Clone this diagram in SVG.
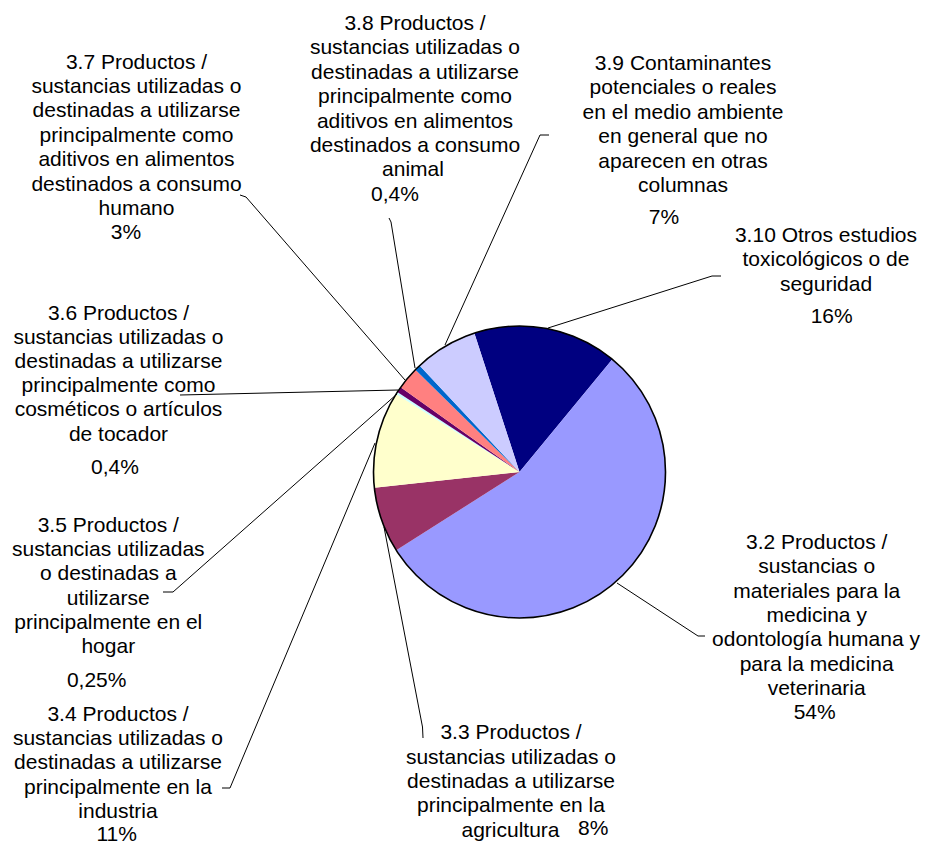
<svg xmlns="http://www.w3.org/2000/svg" width="925" height="847" viewBox="0 0 925 847">
<style>
text{font-family:"Liberation Sans",Arial,sans-serif;font-size:21px;fill:#000;text-anchor:middle}
.ld{fill:none;stroke:#000;stroke-width:1}
.sl{stroke:none}
</style>
<rect width="925" height="847" fill="#fff"/>
<g id="pie">
<path id="s310" class="sl" fill="#000080" d="M519.5 472 L474.38 333.15 A146 146 0 0 1 612.37 359.34 Z"/>
<path id="s32" class="sl" fill="#9999FF" d="M519.5 472 L612.37 359.34 A146 146 0 1 1 396.23 550.23 Z"/>
<path id="s33" class="sl" fill="#993366" d="M519.5 472 L396.23 550.23 A146 146 0 0 1 374.35 487.77 Z"/>
<path id="s34" class="sl" fill="#FFFFCC" d="M519.5 472 L374.35 487.77 A146 146 0 0 1 396.09 393.98 Z"/>
<path id="s35" class="sl" fill="#CCFFFF" d="M519.5 472 L396.09 393.98 A146 146 0 0 1 397.33 392.06 Z"/>
<path id="s36" class="sl" fill="#660066" d="M519.5 472 L397.33 392.06 A146 146 0 0 1 400.64 387.22 Z"/>
<path id="s37" class="sl" fill="#FF8080" d="M519.5 472 L400.64 387.22 A146 146 0 0 1 415.37 369.67 Z"/>
<path id="s38" class="sl" fill="#0066CC" d="M519.5 472 L415.37 369.67 A146 146 0 0 1 419.56 365.57 Z"/>
<path id="s39" class="sl" fill="#CCCCFF" d="M519.5 472 L419.56 365.57 A146 146 0 0 1 474.38 333.15 Z"/>
<circle cx="519.5" cy="472" r="146" fill="none" stroke="#000" stroke-width="1.6"/>
</g>
<g id="connectors">
<polyline class="ld" points="548,328 712,276 721,276"/>
<polyline class="ld" points="445,345 540,135 549,135"/>
<polyline class="ld" points="389,218 391,222 415,368"/>
<polyline class="ld" points="240,195 246,197 405,380"/>
<polyline class="ld" points="180,395 398,390"/>
<polyline class="ld" points="163,592 173,592 397,394"/>
<polyline class="ld" points="222,788 230,788 375,443"/>
<polyline class="ld" points="384,527 422.5,727 423,738"/>
<polyline class="ld" points="617,583 698,636 705,636"/>
</g>
<g id="label-37">
<text x="136.5" y="68.5">3.7 Productos /</text>
<text x="136.5" y="92.9">sustancias utilizadas o</text>
<text x="136.5" y="117.3">destinadas a utilizarse</text>
<text x="136.5" y="141.7">principalmente como</text>
<text x="136.5" y="166.1">aditivos en alimentos</text>
<text x="136.5" y="190.5">destinados a consumo</text>
<text x="136.5" y="214.9">humano</text>
<text x="126" y="239.3">3%</text>
</g>
<g id="label-38">
<text x="415" y="30">3.8 Productos /</text>
<text x="415" y="54.4">sustancias utilizadas o</text>
<text x="415" y="78.8">destinadas a utilizarse</text>
<text x="415" y="103.2">principalmente como</text>
<text x="415" y="127.6">aditivos en alimentos</text>
<text x="415" y="152">destinados a consumo</text>
<text x="413" y="176.4">animal</text>
<text x="395" y="200.8">0,4%</text>
</g>
<g id="label-39">
<text x="683" y="70">3.9 Contaminantes</text>
<text x="683" y="94.4">potenciales o reales</text>
<text x="683" y="118.8">en el medio ambiente</text>
<text x="683" y="143.2">en general que no</text>
<text x="683" y="167.6">aparecen en otras</text>
<text x="683" y="192">columnas</text>
<text x="664" y="224">7%</text>
</g>
<g id="label-310">
<text x="826" y="241.7">3.10 Otros estudios</text>
<text x="826" y="266.1">toxicológicos o de</text>
<text x="826" y="290.5">seguridad</text>
<text x="831.7" y="323.3">16%</text>
</g>
<g id="label-36">
<text x="118.5" y="319.6">3.6 Productos /</text>
<text x="118.5" y="343.8">sustancias utilizadas o</text>
<text x="118.5" y="368">destinadas a utilizarse</text>
<text x="118.5" y="392.2">principalmente como</text>
<text x="118.5" y="416.4">cosméticos o artículos</text>
<text x="118.5" y="440.6">de tocador</text>
<text x="115" y="474.3">0,4%</text>
</g>
<g id="label-35">
<text x="108.3" y="531.7">3.5 Productos /</text>
<text x="108.3" y="556">sustancias utilizadas</text>
<text x="108.3" y="580.3">o destinadas a</text>
<text x="108.3" y="604.6">utilizarse</text>
<text x="108.3" y="628.9">principalmente en el</text>
<text x="108.3" y="653.2">hogar</text>
<text x="96.7" y="687.3">0,25%</text>
</g>
<g id="label-34">
<text x="118" y="720.7">3.4 Productos /</text>
<text x="118" y="745">sustancias utilizadas o</text>
<text x="118" y="769.3">destinadas a utilizarse</text>
<text x="118" y="793.6">principalmente en la</text>
<text x="118" y="817.9">industria</text>
<text x="116.7" y="841">11%</text>
</g>
<g id="label-33">
<text x="511" y="739.3">3.3 Productos /</text>
<text x="511" y="763.6">sustancias utilizadas o</text>
<text x="511" y="787.9">destinadas a utilizarse</text>
<text x="511" y="812.2">principalmente en la</text>
<text x="510.5" y="836.5">agricultura</text>
<text x="593.3" y="835">8%</text>
</g>
<g id="label-32">
<text x="816.7" y="549">3.2 Productos /</text>
<text x="816.7" y="573.3">sustancias o</text>
<text x="816.7" y="597.6">materiales para la</text>
<text x="816.7" y="621.9">medicina y</text>
<text x="816" y="646.2">odontología humana y</text>
<text x="816.7" y="670.5">para la medicina</text>
<text x="816.7" y="694.8">veterinaria</text>
<text x="814.7" y="719.1">54%</text>
</g>
</svg>
